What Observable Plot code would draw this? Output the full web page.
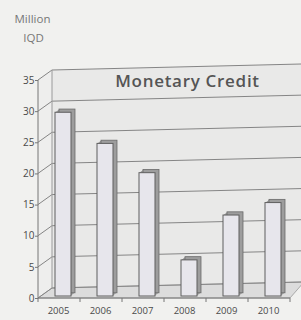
<!DOCTYPE html>
<html><head><meta charset="utf-8">
<script src="https://cdn.jsdelivr.net/npm/d3@7"></script>
<script src="https://cdn.jsdelivr.net/npm/@observablehq/plot@0.6"></script>
<style>
body{margin:0;background:#f1f1ef;}
#chart svg{display:block;}
#chart .title-text text{letter-spacing:0.7px;}
</style>
</head><body><div id="chart"></div>
<script>
const years = ["2005", "2006", "2007", "2008", "2009", "2010"];
const credit = [29.5, 24.5, 19.8, 5.8, 13.0, 15.0];
const yTicks = [0, 5, 10, 15, 20, 25, 30, 35];
const title = "Monetary Credit";
const unitLines = ["Million", "IQD"];

const data = years.map((year, i) => ({year, value: credit[i]}));

// 3D depth offsets (pixels)
const DX = 14, DYL = -10, DYR = -16;

function scene(index, scales, values, dims) {
  const x = scales.x, y = scales.y;
  const L = dims.marginLeft, R = dims.width - dims.marginRight, W = dims.width;
  const yb = y(0), yt = y(yTicks[yTicks.length - 1]);
  const g = d3.create("svg:g");
  g.append("path")
    .attr("d", `M${L + DX},${yt + DYL}L${W},${yt + DYR}L${W},${yb + DYR}L${L + DX},${yb + DYL}Z`)
    .attr("fill", "#e9e9e8");
  g.append("path")
    .attr("d", `M${L},${yt}L${L + DX},${yt + DYL}L${L + DX},${yb + DYL}L${L},${yb}Z`)
    .attr("fill", "#eeeeed");
  g.append("path")
    .attr("d", `M${L},${yb}L${R},${yb}L${R + DX},${yb + DYR}L${L + DX},${yb + DYL}Z`)
    .attr("fill", "#dcdcdc").attr("stroke", "#999").attr("stroke-width", 0.8);
  for (const v of yTicks) {
    g.append("path")
      .attr("d", `M${L},${y(v)}L${L + DX},${y(v) + DYL}L${W},${y(v) + DYR}`)
      .attr("fill", "none").attr("stroke", "#858585").attr("stroke-width", 1);
  }
  g.append("path")
    .attr("d", `M${L + DX},${yt + DYL}L${L + DX},${yb + DYL}`)
    .attr("stroke", "#9a9a9a").attr("stroke-width", 1);
  g.append("path")
    .attr("d", `M${L},${yt}L${L},${yb}L${R},${yb}`)
    .attr("fill", "none").attr("stroke", "#777").attr("stroke-width", 1);
  const step = x.step ? x.step() : (R - L) / years.length;
  const bw = x.bandwidth ? x.bandwidth() : 0;
  const bounds = years.map(d => x(d) - (step - bw) / 2).concat([x(years[years.length - 1]) + bw + (step - bw) / 2]);
  for (const b of bounds) {
    g.append("path").attr("d", `M${b},${yb}L${b},${yb + 4}`).attr("stroke", "#777");
  }
  return g.node();
}

const barShift = 4, barLift = -2;
const sideCopies = [1, 2, 3, 4].map(k =>
  Plot.barY(data, {x: "year", y: "value", fill: "#9d9d9d",
    stroke: k === 4 ? "#6a6a6a" : "none", strokeWidth: 0.8,
    dx: barShift + k, dy: barLift - k * 0.8})
);

const chart = Plot.plot({
  width: 301,
  height: 320,
  marginLeft: 38,
  marginRight: 11,
  marginTop: 80,
  marginBottom: 22,
  style: {fontFamily: "'Open Sans', sans-serif", background: "transparent", overflow: "visible"},
  x: {domain: years, paddingInner: 0.62, paddingOuter: 0.31, label: null},
  y: {domain: [0, 35], label: null},
  marks: [
    scene,
    ...sideCopies,
    Plot.barY(data, {x: "year", y: "value", fill: "#e7e6ec", stroke: "#5f5f5f", strokeWidth: 1,
      dx: barShift, dy: barLift}),
    Plot.axisY({ticks: yTicks, tickSize: 3, tickPadding: 1, stroke: "#777", fill: "#4a4a4a",
      fontSize: 10, label: null}),
    Plot.axisX({tickSize: 0, tickPadding: 9, fill: "#4a4a4a", fontSize: 9.5, dx: -1, label: null}),
    Plot.text([title], {frameAnchor: "top", lineAnchor: "middle", dx: 23, dy: 1, fontSize: 17,
      fontWeight: 600, fill: "#555", className: "title-text"}),
    Plot.text([unitLines[0]], {frameAnchor: "top-left", lineAnchor: "middle", dx: -6, dy: -61,
      textAnchor: "middle", fontSize: 11.5, fill: "#777"}),
    Plot.text([unitLines[1]], {frameAnchor: "top-left", lineAnchor: "middle", dx: -5, dy: -42,
      textAnchor: "middle", fontSize: 11.5, fill: "#777"})
  ]
});
document.getElementById("chart").append(chart);
</script>
</body></html>
